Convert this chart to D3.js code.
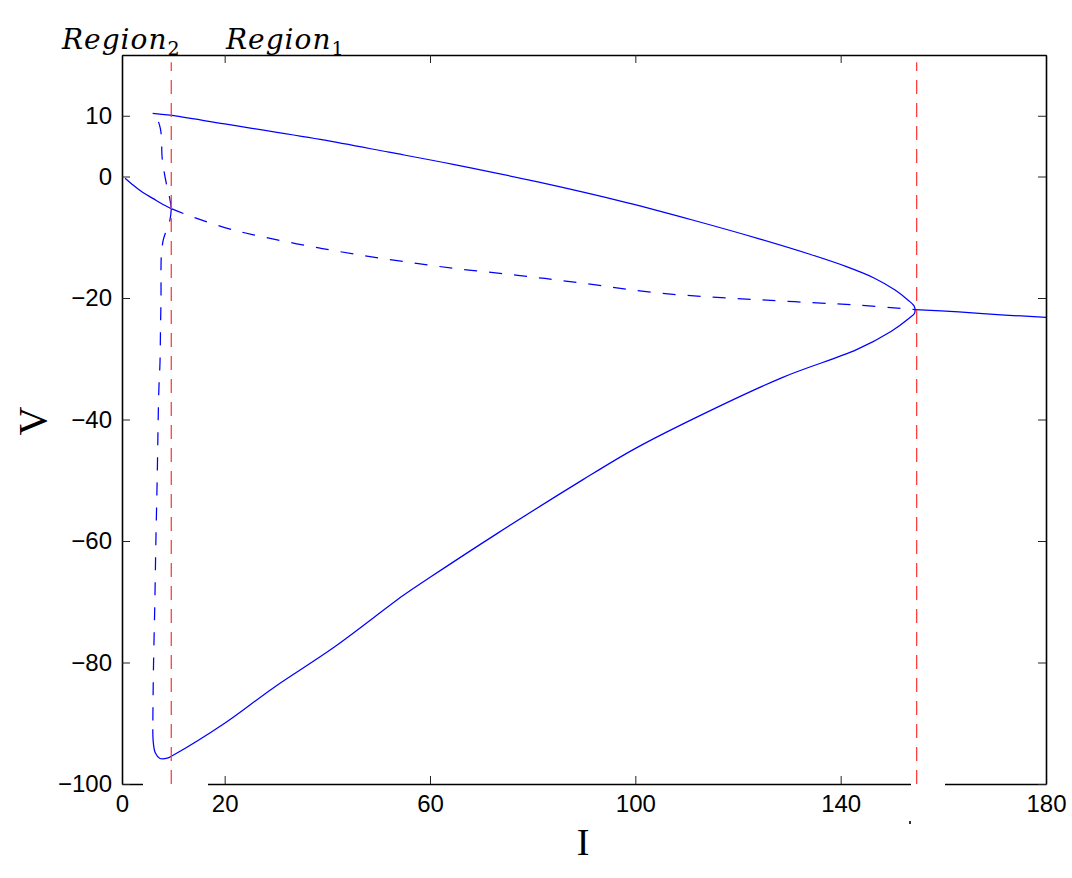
<!DOCTYPE html>
<html><head><meta charset="utf-8">
<script src="https://cdn.jsdelivr.net/npm/d3@7"></script>
<style>body{margin:0;background:#fff}</style>
</head><body>
<svg id="c" width="1072" height="878"></svg>
<script>
// ---- data ----
const xTicks = [0, 20, 60, 100, 140, 180];
const yTicks = [10, 0, -20, -40, -60, -80, -100];
const regionNames = ["Region", "Region"];
const regionSubs = ["2", "1"];
const regionBounds = [9.6, 154.8];
const xLabel = "I";
const yLabel = "V";

// equilibrium branch (stable, left)
const I_eqStableLeft = [0.6, 2, 4, 6, 8, 9.6];
const V_eqStableLeft = [-0.3, -1.3, -2.6, -3.6, -4.6, -5.3];
// equilibrium branch (unstable)
const I_eqUnstable = [9.6, 12.6, 20, 25.6, 38.6, 51.6, 64.5, 77.5, 89.2, 104.8, 124.3, 143.8, 154.5];
const V_eqUnstable = [-5.3, -6.3, -8.4, -9.6, -11.8, -13.6, -15.1, -16.3, -17.5, -19.2, -20.3, -21.2, -21.9];
// equilibrium branch (stable, right)
const I_eqStableRight = [154.5, 163, 172, 180];
const V_eqStableRight = [-21.9, -22.3, -22.8, -23.2];
// unstable periodic orbit, max
const I_upoMax = [9.6, 9.35, 8.8, 8.2, 7.8, 7.7, 7.5, 7.1, 6.6, 5.97];
const V_upoMax = [-5.3, -3.8, -1.8, 0.8, 3.3, 6.0, 7.8, 9.0, 9.8, 10.4];
// unstable periodic orbit, min
const I_upoMin = [9.6, 9.35, 8.5, 8.05, 7.7, 7.6, 7.6, 7.5, 7.4, 7.2, 7.07, 6.85, 6.6, 6.4, 6.15, 6.05, 6.0];
const V_upoMin = [-5.3, -7.1, -9.2, -10.4, -12.5, -14.8, -19.7, -25.2, -30.7, -34.6, -39, -50, -60, -70, -80, -86, -91];
// stable periodic orbit, max
const I_spoMax = [5.97, 9.35, 20, 38.6, 52, 64.5, 81, 98.3, 111.3, 124.3, 134, 141, 146.5, 150.6, 153.2, 154.3, 154.5];
const V_spoMax = [10.4, 10.1, 8.65, 6.1, 4.0, 2.0, -0.9, -4.3, -7.2, -10.3, -12.8, -14.8, -16.7, -18.7, -20.4, -21.3, -21.9];
// stable periodic orbit, min
const I_spoMin = [6.0, 6.1, 6.5, 7.4, 9.0, 9.7, 20, 29.6, 41.3, 54.9, 59.8, 73.2, 89.8, 99.5, 109.1, 128.6, 143.1, 149.8, 153.4, 154.4, 154.5];
const V_spoMin = [-91, -93.2, -94.9, -95.8, -95.7, -95.4, -90, -84.1, -77.5, -68.9, -66.1, -58.7, -49.9, -45.0, -40.8, -33.1, -28.5, -25.5, -23.3, -22.5, -21.9];

const branches = [
  {I: I_eqStableLeft, V: V_eqStableLeft, dashed: false},
  {I: I_eqUnstable, V: V_eqUnstable, dashed: true},
  {I: I_eqStableRight, V: V_eqStableRight, dashed: false},
  {I: I_upoMax, V: V_upoMax, dashed: true},
  {I: I_upoMin, V: V_upoMin, dashed: true},
  {I: I_spoMax, V: V_spoMax, dashed: false},
  {I: I_spoMin, V: V_spoMin, dashed: false}
];

// ---- chart ----
const svg = d3.select("#c");
const L = 122, R = 1046, T = 55, B = 784;
const x = d3.scaleLinear().domain([0, 180]).range([L, R]);
const y = d3.scaleLinear().domain([-100, 20]).range([B, T]);

const tickFont = "'Liberation Sans', Arial, Helvetica, sans-serif";

const line = d3.line().x(d => x(d[0])).y(d => y(d[1])).curve(d3.curveCatmullRom.alpha(0.5));

svg.append("g").selectAll("path").data(branches).join("path")
  .attr("d", b => line(d3.zip(b.I, b.V)))
  .attr("fill", "none")
  .attr("stroke", "#0000ff")
  .attr("stroke-width", 1.25)
  .attr("stroke-dasharray", b => b.dashed ? "13,12" : null);

// axes
const fmt = d => (d < 0 ? "\u2212" + Math.abs(d) : String(d));
const axB = svg.append("g").attr("transform", `translate(0,${B})`)
  .call(d3.axisBottom(x).tickValues(xTicks).tickSizeInner(-8).tickSizeOuter(0).tickPadding(11).tickFormat(fmt));
const axT = svg.append("g").attr("transform", `translate(0,${T})`)
  .call(d3.axisTop(x).tickValues(xTicks).tickSizeInner(-8).tickSizeOuter(0).tickFormat(""));
const axL = svg.append("g").attr("transform", `translate(${L},0)`)
  .call(d3.axisLeft(y).tickValues(yTicks).tickSizeInner(-8).tickSizeOuter(0).tickPadding(10).tickFormat(fmt));
const axR = svg.append("g").attr("transform", `translate(${R},0)`)
  .call(d3.axisRight(y).tickValues(yTicks).tickSizeInner(-8).tickSizeOuter(0).tickFormat(""));

[axB, axT, axL, axR].forEach(a => {
  a.select(".domain").attr("stroke", "#000").attr("stroke-width", 1.6);
  a.selectAll(".tick line").attr("stroke", "#222").attr("stroke-width", 1);
  a.selectAll(".tick text").attr("font-family", tickFont).attr("font-size", 24).attr("fill", "#000");
});

// gaps in bottom frame line (as in the reference)
svg.append("rect").attr("x", 143).attr("y", B - 2).attr("width", 65).attr("height", 4).attr("fill", "#fff");
svg.append("rect").attr("x", 911).attr("y", B - 2).attr("width", 34).attr("height", 4).attr("fill", "#fff");
svg.append("rect").attr("x", 909).attr("y", 821).attr("width", 2).attr("height", 3).attr("fill", "#333");

// region boundary lines
svg.append("g").selectAll("line").data(regionBounds).join("line")
  .attr("x1", d => x(d)).attr("x2", d => x(d))
  .attr("y1", y(-100)).attr("y2", y(18.8))
  .attr("stroke", "#ff4040").attr("stroke-width", 1.3)
  .attr("stroke-dasharray", "14,9");

// region labels
const regionX = [62, 226];
regionNames.forEach((n, i) => {
  const t = svg.append("text").attr("x", regionX[i]).attr("y", 49)
    .attr("font-family", "'DejaVu Serif', serif").attr("font-style", "italic")
    .attr("font-size", 28).attr("letter-spacing", 1).attr("fill", "#000");
  t.append("tspan").text(n);
  t.append("tspan").attr("dy", 6).attr("font-size", 19).attr("font-style", "normal").text(regionSubs[i]);
});

// axis labels
svg.append("text").attr("x", 583).attr("y", 855).attr("text-anchor", "middle")
  .attr("font-family", "'Liberation Serif', 'Times New Roman', serif").attr("font-size", 38).text(xLabel);
svg.append("text").attr("transform", "translate(46,421) rotate(-90)").attr("text-anchor", "middle")
  .attr("font-family", "'Liberation Serif', 'Times New Roman', serif").attr("font-size", 40).text(yLabel);
</script>
</body></html>
